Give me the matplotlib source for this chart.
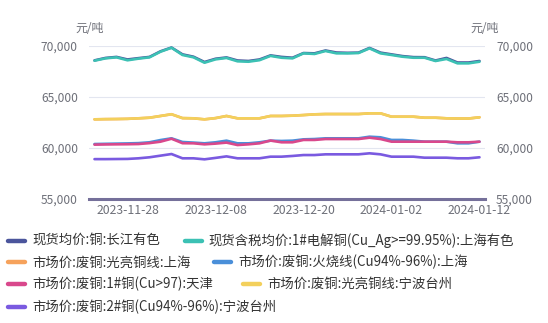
import matplotlib
matplotlib.use("Agg")
import matplotlib.pyplot as plt
from matplotlib.lines import Line2D
from matplotlib.ticker import FuncFormatter, FixedLocator

plt.rcParams['font.family'] = ['Noto Sans CJK SC', 'DejaVu Sans']

dates = ["2023-11-23", "2023-11-24", "2023-11-27", "2023-11-28", "2023-11-29",
         "2023-11-30", "2023-12-01", "2023-12-04", "2023-12-05", "2023-12-06",
         "2023-12-07", "2023-12-08", "2023-12-11", "2023-12-12", "2023-12-13",
         "2023-12-14", "2023-12-15", "2023-12-18", "2023-12-19", "2023-12-20",
         "2023-12-21", "2023-12-22", "2023-12-25", "2023-12-26", "2023-12-27",
         "2023-12-28", "2023-12-29", "2024-01-02", "2024-01-03", "2024-01-04",
         "2024-01-05", "2024-01-08", "2024-01-09", "2024-01-10", "2024-01-11",
         "2024-01-12"]
tick_dates = ["2023-11-28", "2023-12-08", "2023-12-20", "2024-01-02", "2024-01-12"]

names = [
    "现货均价:铜:长江有色",
    "现货含税均价:1#电解铜(Cu_Ag>=99.95%):上海有色",
    "市场价:废铜:光亮铜线:上海",
    "市场价:废铜:火烧线(Cu94%-96%):上海",
    "市场价:废铜:1#铜(Cu>97):天津",
    "市场价:废铜:光亮铜线:宁波台州",
    "市场价:废铜:2#铜(Cu94%-96%):宁波台州",
]

changjiang = [68560, 68800, 68900, 68650, 68780, 68900, 69450, 69820, 69150, 68920,
              68400, 68720, 68850, 68550, 68500, 68650, 69050, 68900, 68820, 69280,
              69250, 69530, 69330, 69300, 69320, 69780, 69320, 69150, 68980, 68880,
              68870, 68550, 68800, 68350, 68350, 68500]
shanghai_cathode = [68530, 68760, 68860, 68570, 68730, 68860, 69410, 69800, 69090, 68860,
                    68330, 68660, 68800, 68470, 68430, 68580, 69000, 68820, 68760, 69250,
                    69190, 69480, 69250, 69250, 69280, 69740, 69250, 69090, 68920, 68820,
                    68820, 68500, 68700, 68270, 68270, 68430]
bright_wire_sh = [62780, 62800, 62810, 62830, 62880, 62940, 63110, 63280, 62900, 62880,
                  62780, 62900, 63110, 62880, 62880, 62880, 63110, 63110, 63140, 63200,
                  63270, 63300, 63300, 63300, 63300, 63370, 63370, 63040, 63040, 63040,
                  62940, 62940, 62880, 62860, 62860, 62980]
burnt_wire_sh = [60360, 60380, 60400, 60420, 60450, 60530, 60750, 60920, 60560, 60500,
                 60430, 60530, 60690, 60430, 60430, 60530, 60690, 60660, 60690, 60820,
                 60850, 60920, 60920, 60920, 60920, 61080, 61020, 60760, 60760, 60690,
                 60590, 60590, 60590, 60430, 60430, 60590]
no1_tianjin = [60300, 60320, 60330, 60340, 60360, 60450, 60590, 60880, 60440, 60430,
               60330, 60400, 60500, 60260, 60330, 60430, 60700, 60530, 60530, 60760,
               60760, 60850, 60850, 60850, 60850, 60980, 60850, 60590, 60590, 60590,
               60590, 60590, 60590, 60530, 60530, 60590]
bright_wire_nb = [62780, 62800, 62810, 62830, 62880, 62940, 63110, 63280, 62900, 62880,
                  62780, 62900, 63110, 62880, 62880, 62880, 63110, 63110, 63140, 63200,
                  63270, 63300, 63300, 63300, 63300, 63370, 63370, 63040, 63040, 63040,
                  62940, 62940, 62880, 62860, 62860, 62980]
no2_nb = [58880, 58880, 58890, 58900, 58960, 59060, 59220, 59380, 58960, 58960,
          58860, 59000, 59150, 58960, 58960, 58960, 59120, 59120, 59190, 59280,
          59280, 59350, 59350, 59350, 59350, 59450, 59350, 59120, 59120, 59120,
          59020, 59020, 59020, 58960, 58960, 59060]

series = [changjiang, shanghai_cathode, bright_wire_sh, burnt_wire_sh,
          no1_tianjin, bright_wire_nb, no2_nb]
colors = ["#4b559c", "#3cc1b4", "#f6a25c", "#4a8fd9", "#d9488c", "#f3d05c", "#7a5ae0"]

y_ticks = [55000, 60000, 65000, 70000]
unit = "元/吨"

W, H = 548, 323
fig = plt.figure(figsize=(W / 100, H / 100), dpi=100)
ax = fig.add_axes([89 / W, 1 - 198.7 / H, (485 - 89) / W, (198.7 - 45.7) / H])

x = list(range(len(dates)))
for vals, c in zip(series, colors):
    ax.plot(x, vals, color=c, lw=1.9, solid_joinstyle="round", solid_capstyle="round",
            zorder=3)

# category axis with half-band padding on each side
ax.set_xlim(-0.5, len(dates) - 0.5)
ax.set_ylim(y_ticks[0], y_ticks[-1])
ax.yaxis.set_major_locator(FixedLocator(y_ticks))
ax.yaxis.set_major_formatter(FuncFormatter(lambda v, p: f"{int(v):,}"))
ax.set_xticks([dates.index(d) for d in tick_dates])
ax.set_xticklabels(tick_dates)

for s in ["top", "right", "left"]:
    ax.spines[s].set_visible(False)
ax.spines["bottom"].set_color("#75709a")
ax.spines["bottom"].set_linewidth(2.2)
ax.spines["bottom"].set_zorder(4)

ax.grid(axis="y", color="#e3e6f0", lw=0.8, zorder=0)
ax.tick_params(axis="y", length=0, labelsize=8.6, labelcolor="#6e7079", pad=8,
               labelright=True)
ax.tick_params(axis="x", length=0, labelsize=8.8, labelcolor="#6e7079", pad=4)

fig.text(75 / W, 1 - 29 / H, unit, fontsize=8.6, color="#6e7079", va="center", ha="left")
fig.text(470 / W, 1 - 29 / H, unit, fontsize=8.6, color="#6e7079", va="center", ha="left")

# legend laid out in flowing rows
rows_y = [240.7, 262.3, 284.0, 306.5]
items = [
    (0, 8, 32), (0, 185, 208),
    (1, 8, 32), (1, 214, 238),
    (2, 8, 32), (2, 243, 267),
    (3, 8, 32),
]
for k, (r, icon_x, text_x) in enumerate(items):
    yy = 1 - rows_y[r] / H
    fig.add_artist(Line2D([icon_x / W, (icon_x + 17) / W], [yy, yy], color=colors[k],
                          lw=3.2, solid_capstyle="round", transform=fig.transFigure))
    fig.text(text_x / W, yy, names[k], fontsize=9.6, color="#333333", va="center",
             ha="left")

fig.savefig("out.png", dpi=100)
